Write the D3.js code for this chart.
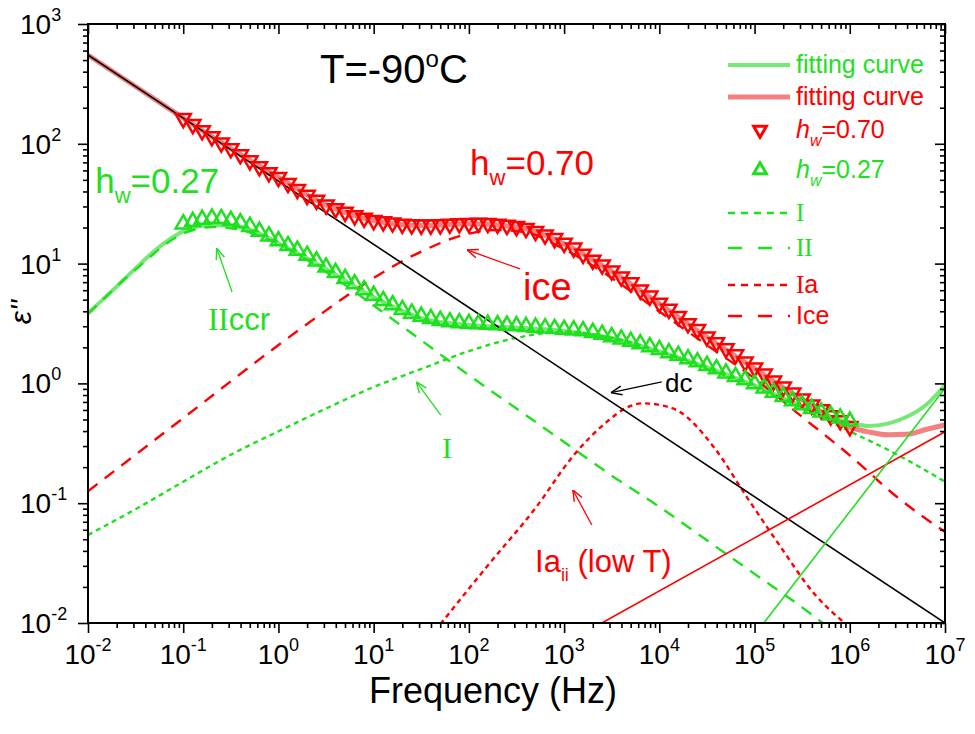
<!DOCTYPE html>
<html>
<head>
<meta charset="utf-8">
<script src="https://cdn.jsdelivr.net/npm/d3@7"></script>
<style>
  html, body { margin: 0; padding: 0; background: #fff; }
  svg { display: block; font-family: "Liberation Sans", Arial, sans-serif; }
</style>
</head>
<body>
<div id="chart"></div>
<script>
// measured frequencies (Hz), 10 points per decade
const freqMeasured = [
  0.1, 0.126, 0.158, 0.2, 0.251, 0.316, 0.398, 0.501, 0.631, 0.794,
  1, 1.26, 1.58, 2, 2.51, 3.16, 3.98, 5.01, 6.31, 7.94,
  10, 12.6, 15.8, 20, 25.1, 31.6, 39.8, 50.1, 63.1, 79.4,
  100, 126, 158, 200, 251, 316, 398, 501, 631, 794,
  1e3, 1.26e3, 1.58e3, 2e3, 2.51e3, 3.16e3, 3.98e3, 5.01e3, 6.31e3, 7.94e3,
  1e4, 1.26e4, 1.58e4, 2e4, 2.51e4, 3.16e4, 3.98e4, 5.01e4, 6.31e4, 7.94e4,
  1e5, 1.26e5, 1.58e5, 2e5, 2.51e5, 3.16e5, 3.98e5, 5.01e5, 6.31e5, 7.94e5,
  1e6
];
// eps'' of hw = 0.70 (down triangles)
const epsHw070 = [
  163, 145, 129, 115, 102, 91.2, 81.3, 72.4, 64.6, 57.5,
  52.5, 46.8, 41.7, 37.2, 33.9, 30.9, 28.8, 26.9, 25.1, 24.0,
  22.9, 22.4, 21.9, 21.4, 21.1, 21.0, 21.0, 21.1, 21.4, 21.6,
  21.7, 21.8, 21.7, 21.4, 20.9, 20.4, 19.7, 18.6, 17.4, 16.2,
  14.8, 13.5, 12.0, 10.7, 9.77, 8.71, 7.76, 6.92, 6.03, 5.37,
  4.68, 4.17, 3.63, 3.16, 2.82, 2.45, 2.19, 1.95, 1.74, 1.51,
  1.35, 1.20, 1.05, 0.933, 0.832, 0.741, 0.661, 0.603, 0.537, 0.490,
  0.437
];
// eps'' of hw = 0.27 (up triangles)
const epsHw027 = [
  21.4, 22.4, 23.4, 23.9, 23.7, 22.9, 21.9, 20.4, 18.6, 17.0,
  15.5, 14.1, 12.9, 11.7, 10.5, 9.33, 8.41, 7.50, 6.76, 6.03,
  5.43, 4.90, 4.52, 4.12, 3.85, 3.63, 3.47, 3.35, 3.26, 3.20,
  3.16, 3.14, 3.11, 3.08, 3.05, 3.02, 2.98, 2.94, 2.90, 2.86,
  2.82, 2.79, 2.74, 2.66, 2.57, 2.45, 2.34, 2.24, 2.14, 2.02,
  1.91, 1.80, 1.71, 1.60, 1.51, 1.41, 1.32, 1.22, 1.14, 1.07,
  0.989, 0.912, 0.841, 0.776, 0.716, 0.661, 0.617, 0.575, 0.543, 0.513,
  0.484
];

// fitting curves and components: [frequency, eps'']
const fitHw070 = [[0.01, 551], [0.0316, 301], [0.1, 164], [0.316, 91.2], [1, 52.5], [3.16, 30.9],
  [10, 22.9], [31.6, 20.8], [100, 21.5], [316, 20.2], [1e3, 14.6], [3.16e3, 8.61], [1e4, 4.62],
  [3.16e4, 2.43], [1e5, 1.33], [3.16e5, 0.733], [1e6, 0.432], [1.58e6, 0.394], [2.51e6, 0.373],
  [3.98e6, 0.376], [6.31e6, 0.412], [1e7, 0.45]];
const fitHw027 = [[0.01, 3.85], [0.0178, 5.89], [0.0316, 9.12], [0.0562, 13.8], [0.1, 18.6],
  [0.178, 20.9], [0.316, 20.9], [0.562, 18.6], [1, 14.8], [3.16, 9.02], [10, 5.25], [31.6, 3.51],
  [100, 3.07], [316, 2.93], [1e3, 2.74], [3.16e3, 2.39], [1e4, 1.85], [3.16e4, 1.37], [1e5, 0.962],
  [3.16e5, 0.646], [1e6, 0.473], [1.58e6, 0.441], [2.51e6, 0.462], [3.98e6, 0.527], [6.31e6, 0.661],
  [1e7, 0.97]];
const compI = [[0.01, 0.0543], [0.0316, 0.0891], [0.1, 0.151], [0.316, 0.254], [1, 0.398],
  [3.16, 0.617], [10, 0.933], [31.6, 1.32], [100, 1.86], [316, 2.40], [1e3, 2.69], [3.16e3, 2.40],
  [1e4, 1.86], [3.16e4, 1.32], [1e5, 0.933], [3.16e5, 0.617], [1e6, 0.398], [3.16e6, 0.254], [1e7, 0.151]];
const compII = [[0.01, 3.80], [0.0316, 8.91], [0.1, 17.8], [0.2, 20.2], [0.398, 19.1], [1, 14.5],
  [3.16, 8.51], [10, 4.47], [31.6, 2.29], [100, 1.17], [316, 0.617], [1e3, 0.324], [3.16e3, 0.170],
  [1e4, 0.0933], [3.16e4, 0.0490], [1e5, 0.0257], [3.16e5, 0.0135], [5.62e5, 0.00955]];
const compIa = [[50.1, 0.00977], [158, 0.0302], [501, 0.0912], [1.26e3, 0.251], [2.82e3, 0.479],
  [4.47e3, 0.624], [6.76e3, 0.682], [1e4, 0.661], [1.58e4, 0.589], [3.72e4, 0.295], [8.32e4, 0.112],
  [1.86e5, 0.0437], [4.17e5, 0.0178], [9.12e5, 0.00977]];
const compIce = [[0.01, 0.126], [0.1, 0.513], [1, 2.09], [3.16, 4.07], [10, 7.59], [31.6, 12.6],
  [100, 17.8], [200, 19.1], [398, 18.2], [1e3, 13.2], [3.16e3, 7.59], [1e4, 3.98], [3.16e4, 2.09],
  [1e5, 1.10], [3.16e5, 0.525], [1e6, 0.251], [3.16e6, 0.112], [1e7, 0.0575]];
const lineDc = [[0.01, 551], [1e7, 0.01]];
const lineRedHigh = [[2.49e3, 0.01], [1e7, 0.395]];
const lineGreenHigh = [[1.25e5, 0.01], [1e7, 0.91]];

const xDecades = [1e-2, 1e-1, 1e0, 1e1, 1e2, 1e3, 1e4, 1e5, 1e6, 1e7];
const xExponents = ["-2", "-1", "0", "1", "2", "3", "4", "5", "6", "7"];
const yDecades = [1e-2, 1e-1, 1e0, 1e1, 1e2, 1e3];
const yExponents = ["-2", "-1", "0", "1", "2", "3"];

const GREEN = "#1fe01f", RED = "#ff0000";
const W = 975, H = 734;
const P = { left: 88, right: 945, top: 24, bottom: 623 };

const x = d3.scaleLog().domain([1e-2, 1e7]).range([P.left, P.right]);
const y = d3.scaleLog().domain([1e-2, 1e3]).range([P.bottom, P.top]);

const svg = d3.select("#chart").append("svg").attr("width", W).attr("height", H);
const defs = svg.append("defs");
defs.append("clipPath").attr("id", "clip").append("rect")
  .attr("x", P.left).attr("y", P.top).attr("width", P.right - P.left).attr("height", P.bottom - P.top);
[["arrG", GREEN], ["arrR", RED], ["arrK", "#000"]].forEach(([id, c]) => {
  defs.append("marker").attr("id", id).attr("viewBox", "0 0 10 10").attr("refX", 10).attr("refY", 5)
    .attr("markerWidth", 11).attr("markerHeight", 11).attr("markerUnits", "userSpaceOnUse").attr("orient", "auto")
    .append("path").attr("d", "M0,1 L10,5 L0,9").attr("fill", "none").attr("stroke", c).attr("stroke-width", 1.3);
});

const line = d3.line().x(d => x(d[0])).y(d => y(d[1])).curve(d3.curveMonotoneX);
const plot = svg.append("g").attr("clip-path", "url(#clip)");

// fitting curves
plot.append("path").datum(fitHw070).attr("d", line).attr("fill", "none")
  .attr("stroke", "#f26a6a").attr("stroke-opacity", 0.85).attr("stroke-width", 5);
plot.append("path").datum(fitHw027).attr("d", line).attr("fill", "none")
  .attr("stroke", "#5ee45e").attr("stroke-opacity", 0.85).attr("stroke-width", 4);

// components
const comps = [
  { data: compI, color: GREEN, dash: "5,4" },
  { data: compII, color: GREEN, dash: "12,9" },
  { data: compIa, color: RED, dash: "5,4" },
  { data: compIce, color: RED, dash: "12,9" }
];
comps.forEach(c => plot.append("path").datum(c.data).attr("d", line).attr("fill", "none")
  .attr("stroke", c.color).attr("stroke-width", 2.4).attr("stroke-dasharray", c.dash));

plot.append("path").datum(lineDc).attr("d", line).attr("fill", "none").attr("stroke", "#000").attr("stroke-width", 1.6);

// data
const tri = d3.symbol().type(d3.symbolTriangle).size(100);
plot.append("g").selectAll("path").data(freqMeasured.map((f, i) => [f, epsHw070[i]])).join("path")
  .attr("d", tri).attr("transform", d => `translate(${x(d[0])},${y(d[1])}) rotate(180)`)
  .attr("fill", "none").attr("stroke", RED).attr("stroke-width", 2.5);
plot.append("g").selectAll("path").data(freqMeasured.map((f, i) => [f, epsHw027[i]])).join("path")
  .attr("d", tri).attr("transform", d => `translate(${x(d[0])},${y(d[1])})`)
  .attr("fill", "none").attr("stroke", GREEN).attr("stroke-width", 2.5);

plot.append("path").datum(lineRedHigh).attr("d", line).attr("fill", "none").attr("stroke", RED).attr("stroke-width", 1.6);
plot.append("path").datum(lineGreenHigh).attr("d", line).attr("fill", "none").attr("stroke", GREEN).attr("stroke-width", 1.6);

// axes
const minorOf = dom => {
  const out = [];
  for (let d = dom[0]; d < dom[1]; d *= 10) for (let k = 2; k <= 9; k++) out.push(d * k);
  return out;
};
const xMinor = minorOf(x.domain()), yMinor = minorOf(y.domain());
function ax(gen, scale, vals, size, tr) {
  svg.append("g").attr("transform", tr)
    .call(gen(scale).tickValues(vals).tickSize(size).tickSizeOuter(0).tickFormat(""))
    .call(g => g.select(".domain").remove())
    .call(g => g.selectAll("line").attr("stroke", "#000").attr("stroke-width", 1.6));
}
ax(d3.axisBottom, x, xDecades, 10, `translate(0,${P.bottom})`);
ax(d3.axisBottom, x, xMinor, 5, `translate(0,${P.bottom})`);
ax(d3.axisTop, x, xDecades, -10, `translate(0,${P.top})`);
ax(d3.axisTop, x, xMinor, -5, `translate(0,${P.top})`);
ax(d3.axisLeft, y, yDecades, 10, `translate(${P.left},0)`);
ax(d3.axisLeft, y, yMinor, 5, `translate(${P.left},0)`);
ax(d3.axisRight, y, yDecades, -10, `translate(${P.right},0)`);
ax(d3.axisRight, y, yMinor, -5, `translate(${P.right},0)`);
svg.append("rect").attr("x", P.left).attr("y", P.top).attr("width", P.right - P.left)
  .attr("height", P.bottom - P.top).attr("fill", "none").attr("stroke", "#000").attr("stroke-width", 2);

// tick labels
xDecades.forEach((v, i) => {
  const t = svg.append("text").attr("x", x(v)).attr("y", 664).attr("text-anchor", "middle").attr("font-size", 28);
  t.append("tspan").text("10");
  t.append("tspan").attr("dy", -13).attr("font-size", 18).text(xExponents[i]);
});
yDecades.forEach((v, i) => {
  const t = svg.append("text").attr("x", 20).attr("y", y(v) + 10).attr("font-size", 28);
  t.append("tspan").text("10");
  t.append("tspan").attr("dy", -13).attr("font-size", 18).text(yExponents[i]);
});

svg.append("text").attr("x", 493).attr("y", 703).attr("text-anchor", "middle")
  .attr("font-size", 36).text("Frequency (Hz)");
svg.append("text").attr("transform", `translate(31,312) rotate(-90)`).attr("text-anchor", "middle")
  .attr("font-size", 30).attr("font-style", "italic").text("ε''");

// annotations (anchored in data space)
const SERIF = "'Liberation Serif','Times New Roman',serif";
function label(f, e, color, size, parts, anchor) {
  const t = svg.append("text").attr("x", x(f)).attr("y", y(e)).attr("fill", color)
    .attr("font-size", size).attr("text-anchor", anchor || "start");
  parts.forEach(p => {
    const s = t.append("tspan").text(p.t);
    if (p.dy) s.attr("dy", p.dy);
    if (p.size) s.attr("font-size", p.size);
    if (p.serif) s.attr("font-family", SERIF);
    if (p.italic) s.attr("font-style", "italic");
  });
  return t;
}
function arrow(f0, e0, f1, e1, color, id) {
  svg.append("line").attr("x1", x(f0)).attr("y1", y(e0)).attr("x2", x(f1)).attr("y2", y(e1))
    .attr("stroke", color).attr("stroke-width", 1.3).attr("marker-end", `url(#${id})`);
}

label(2.73, 322, "#000", 40, [{ t: "T=-90" }, { t: "o", dy: -16, size: 24 }, { t: "C", dy: 16 }]);
label(103, 55.0, RED, 35, [{ t: "h" }, { t: "w", dy: 10, size: 22 }, { t: "=0.70", dy: -10 }]);
label(0.0119, 38.8, GREEN, 35, [{ t: "h" }, { t: "w", dy: 10, size: 22 }, { t: "=0.27", dy: -10 }]);
label(371, 4.97, RED, 38, [{ t: "ice" }]);
arrow(345, 9.02, 95.7, 13.0, RED, "arrR");
label(0.182, 2.79, GREEN, 31, [{ t: "II", serif: true }, { t: "ccr" }]);
arrow(0.326, 5.79, 0.225, 13.4, GREEN, "arrG");
label(59.0, 0.238, GREEN, 30, [{ t: "I", serif: true }], "middle");
arrow(50.7, 0.544, 28.1, 1.03, GREEN, "arrG");
label(495, 0.0267, RED, 31, [{ t: "Ia" }, { t: "ii", dy: 9, size: 18 }, { t: " (low T)", dy: -9 }]);
arrow(1954, 0.0658, 1236, 0.129, RED, "arrR");
label(1.15e4, 0.847, "#000", 26, [{ t: "dc" }]);
arrow(1.06e4, 1.03, 3.1e3, 0.837, "#000", "arrK");

// legend
const legend = [
  { kind: "line", color: "#5ee45e", width: 4, dash: null, opacity: 0.85, y: 65, label: [{ t: "fitting curve" }], tc: GREEN },
  { kind: "line", color: "#f26a6a", width: 5, dash: null, opacity: 0.85, y: 97, label: [{ t: "fitting curve" }], tc: RED },
  { kind: "down", color: RED, y: 130, label: [{ t: "h", italic: true }, { t: "w", italic: true, dy: 8, size: 16 }, { t: "=0.70", dy: -8 }], tc: RED },
  { kind: "up", color: GREEN, y: 170, label: [{ t: "h", italic: true }, { t: "w", italic: true, dy: 8, size: 16 }, { t: "=0.27", dy: -8 }], tc: GREEN },
  { kind: "line", color: GREEN, width: 2.6, dash: "7,6", y: 213, label: [{ t: "I", serif: true }], tc: GREEN },
  { kind: "line", color: GREEN, width: 2.6, dash: "14,16", y: 248, label: [{ t: "II", serif: true }], tc: GREEN },
  { kind: "line", color: RED, width: 2.6, dash: "7,6", y: 285, label: [{ t: "I", serif: true }, { t: "a" }], tc: RED },
  { kind: "line", color: RED, width: 2.6, dash: "14,16", y: 316, label: [{ t: "Ice" }], tc: RED }
];
const lg = svg.append("g");
legend.forEach(it => {
  if (it.kind === "line") {
    lg.append("line").attr("x1", 728).attr("x2", 790).attr("y1", it.y).attr("y2", it.y)
      .attr("stroke", it.color).attr("stroke-width", it.width).attr("stroke-opacity", it.opacity || 1)
      .attr("stroke-dasharray", it.dash);
  } else {
    lg.append("path").attr("d", d3.symbol().type(d3.symbolTriangle).size(70))
      .attr("transform", `translate(760,${it.y})` + (it.kind === "down" ? " rotate(180)" : ""))
      .attr("fill", "none").attr("stroke", it.color).attr("stroke-width", 3);
  }
  const t = lg.append("text").attr("x", 796).attr("y", it.y + 8).attr("fill", it.tc).attr("font-size", 25);
  it.label.forEach(p => {
    const s = t.append("tspan").text(p.t);
    if (p.dy) s.attr("dy", p.dy);
    if (p.size) s.attr("font-size", p.size);
    if (p.serif) s.attr("font-family", SERIF);
    if (p.italic) s.attr("font-style", "italic");
  });
});
</script>
</body>
</html>
